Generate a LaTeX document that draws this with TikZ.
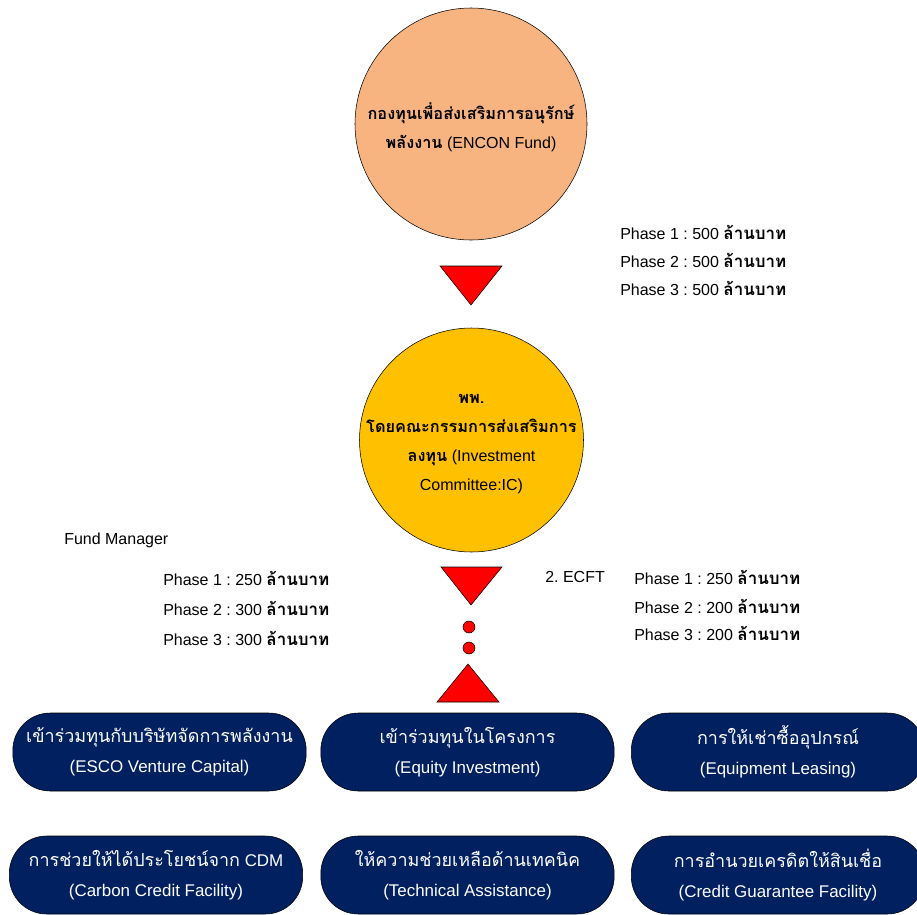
\documentclass[tikz,border=0pt]{standalone}
\usepackage{fontspec}
\setmainfont{Liberation Sans}
\newfontfamily\thaifont[Script=Thai,Scale=1.06]{Loma}
\newfontfamily\thaicircle[Script=Thai,Scale=1.02]{Loma}
\newcommand{\thb}[1]{{\thaifont\bfseries #1}}
\newcommand{\thr}[1]{{\thaifont #1}}
\newcommand{\thc}[1]{{\thaicircle\bfseries #1}}
\definecolor{fundorange}{HTML}{F7B481}
\definecolor{icyellow}{HTML}{FFC000}
\definecolor{boxnavy}{HTML}{002060}
\tikzset{
  phase/.style={anchor=west, inner sep=0pt, font=\fontsize{12}{14}\selectfont},
  bigcircle/.style={circle, draw=black, inner sep=0pt},
  circletext/.style={align=center, inner sep=0pt, font=\fontsize{12}{21.75}\selectfont},
  fundbox/.style={draw=black, fill=boxnavy, text=white, rounded corners=28pt,
    minimum width=220pt, minimum height=58.5pt, align=center,
    font=\fontsize{12.7}{22.5}\selectfont},
  redmark/.style={draw=black, fill=red, line width=0.4pt}
}
\begin{document}
\frenchspacing
\begin{tikzpicture}[x=0.75pt, y=-0.75pt]
  \useasboundingbox (0,0) rectangle (917,914);
  % Fund circle
  \node[bigcircle, fill=fundorange, minimum size=174pt] (encon) at (471,124) {};
  \node[circletext] (encontext) at (471,127) {\thc{กองทุนเพื่อส่งเสริมการอนุรักษ์}\\ \thc{พลังงาน} (ENCON Fund)};
  % Budget of the fund
  \foreach \i/\y in {1/232,2/260,3/288}
    \node[phase] (enconphase\i) at (620,\y) {Phase \i\ : 500 \thb{ล้านบาท}};
  % Marker down to the committee
  \draw[redmark] (440,266) -- (502,266) -- (471,305) -- cycle;
  % Committee circle
  \node[bigcircle, fill=icyellow, minimum size=168pt] (ic) at (471.5,440) {};
  \node[circletext] (ictext) at (471.5,444) {\thc{พพ.}\\ \thc{โดยคณะกรรมการส่งเสริมการ}\\ \thc{ลงทุน} (Investment\\ Committee:IC)};
  % Fund manager side
  \node[phase] (manager) at (64,540) {Fund Manager};
  \foreach \i/\y/\amt in {1/578/250,2/608/300,3/638/300}
    \node[phase] (fmphase\i) at (163,\y) {Phase \i\ : \amt\ \thb{ล้านบาท}};
  % ECFT side
  \node[phase] (ecft) at (545,577) {2. ECFT};
  \foreach \i/\y/\amt in {1/577/250,2/606/200,3/633/200}
    \node[phase] (ecftphase\i) at (634,\y) {Phase \i\ : \amt\ \thb{ล้านบาท}};
  % Markers down to the measures
  \draw[redmark] (441,567) -- (502,567) -- (471,605) -- cycle;
  \draw[redmark] (469,627) circle[radius=6];
  \draw[redmark] (469,648) circle[radius=6];
  \draw[redmark] (468,664) -- (499,702) -- (437,702) -- cycle;
  % Measures, first row
  \node[fundbox] (esco) at (159.5,752) {\thr{เข้าร่วมทุนกับบริษัทจัดการพลังงาน}\\ (ESCO Venture Capital)};
  \node[fundbox] (equity) at (467.5,752) {\thr{เข้าร่วมทุนในโครงการ}\\ (Equity Investment)};
  \node[fundbox] (leasing) at (778,752) {\thr{การให้เช่าซื้ออุปกรณ์}\\ (Equipment Leasing)};
  % Measures, second row
  \node[fundbox] (carbon) at (156,875) {\thr{การช่วยให้ได้ประโยชน์จาก} CDM\\ (Carbon Credit Facility)};
  \node[fundbox] (technical) at (467.5,875) {\thr{ให้ความช่วยเหลือด้านเทคนิค}\\ (Technical Assistance)};
  \node[fundbox] (guarantee) at (778,875) {\thr{การอำนวยเครดิตให้สินเชื่อ}\\ (Credit Guarantee Facility)};
\end{tikzpicture}
\end{document}
